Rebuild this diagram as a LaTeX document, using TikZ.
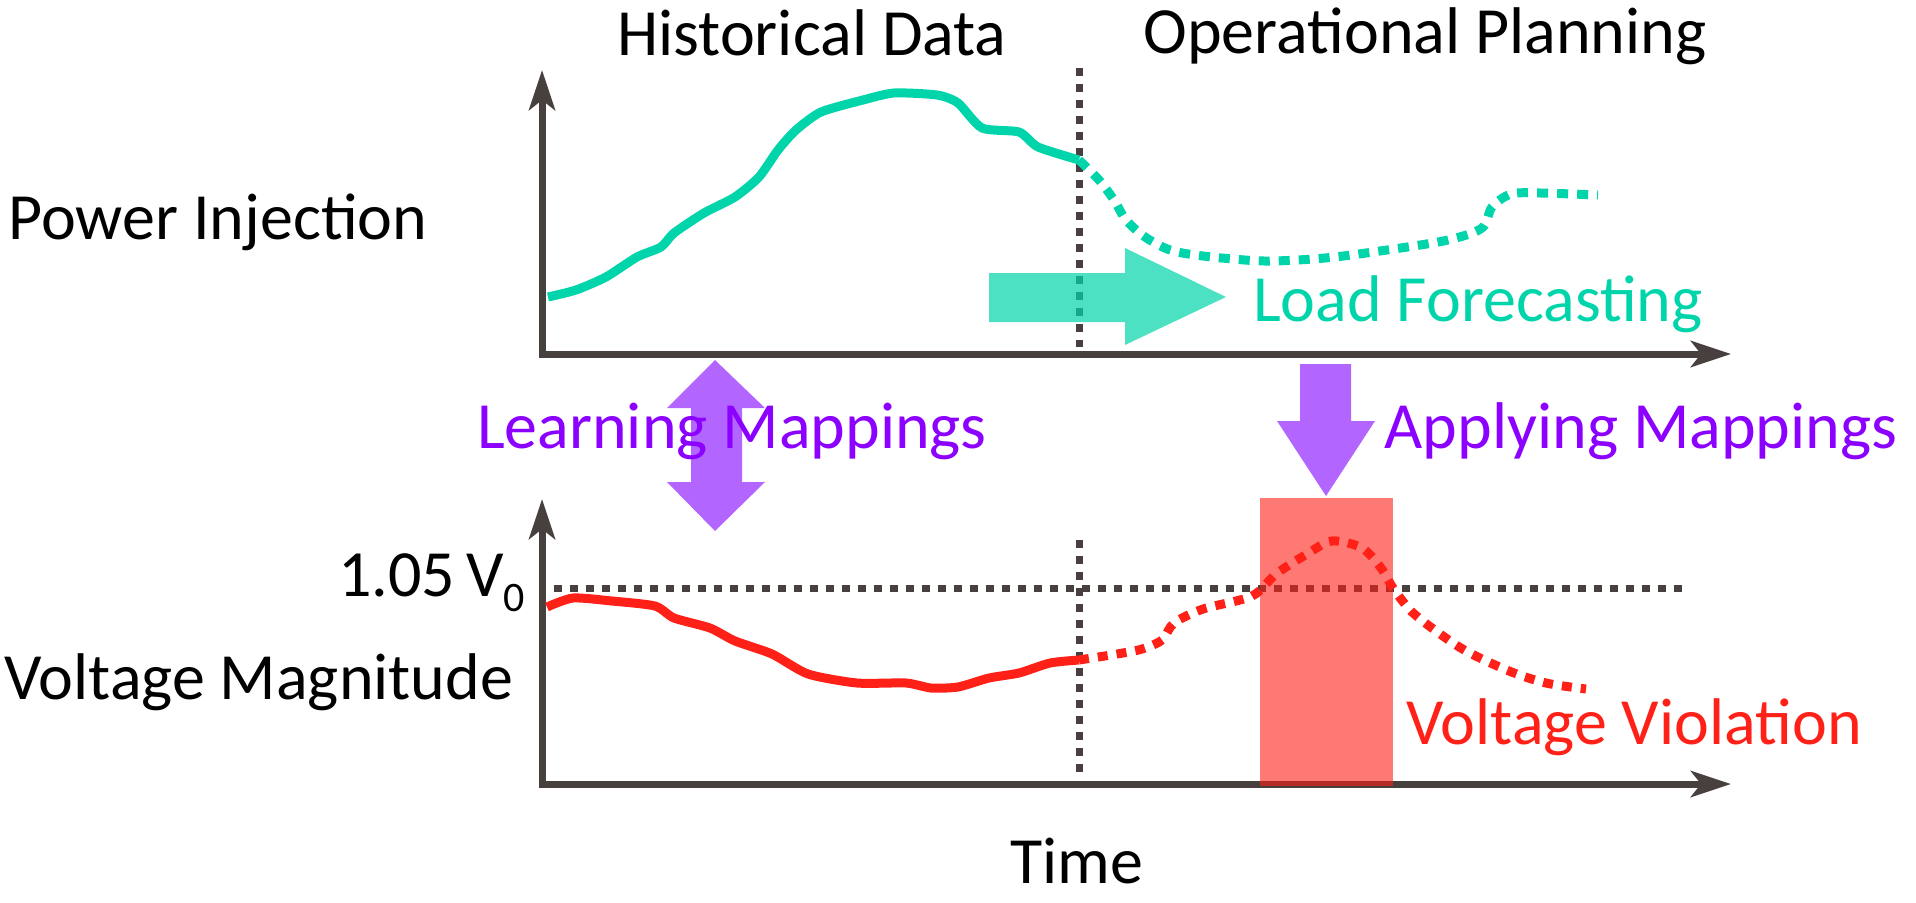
\documentclass[tikz,border=0pt]{standalone}
\usepackage{fontspec}
\setmainfont{Carlito}
\usetikzlibrary{positioning, arrows.meta}
\definecolor{axisgray}{RGB}{72,64,62}
\definecolor{loadgreen}{RGB}{0,212,170}
\definecolor{mapviolet}{RGB}{139,0,255}
\definecolor{arrowviolet}{RGB}{179,102,255}
\definecolor{voltred}{RGB}{255,32,24}

\begin{document}
\begin{tikzpicture}[x=1pt,y=-1pt,
    every node/.style={inner sep=0pt,font=\fontsize{66}{72}\selectfont},
    axis/.style={draw=axisgray,line width=7pt,{Stealth[length=40pt,width=26pt,inset=10pt]}-{Stealth[length=40pt,width=26pt,inset=10pt]}},
    divider/.style={draw=axisgray,line width=7pt,dash pattern=on 8pt off 8pt},
    loadline/.style={draw=loadgreen,line width=9pt,line join=round},
    voltline/.style={draw=voltred,line width=9pt,line join=round},
    forecast/.style={dash pattern=on 11pt off 9pt},
    >=Stealth]
    \useasboundingbox (0,0) rectangle (1916,902);

    % axes of both panels
    \coordinate (topO) at (542,354);
    \coordinate (topY) at (542,70);
    \coordinate (topX) at (1731,354);
    \coordinate (botO) at (542,784);
    \coordinate (botY) at (542,499);
    \coordinate (botX) at (1731,784);
    \coordinate (topcut1) at (1079,68);
    \coordinate (topcut2) at (1079,347);
    \coordinate (botcut1) at (1079,540);
    \coordinate (botcut2) at (1079,776);
    \coordinate (limit1) at (554,588);
    \coordinate (limit2) at (1684,588);

    \draw [divider] (topcut1) -- (topcut2);
    \draw [divider] (botcut1) -- (botcut2);
    \draw [divider] (limit1) -- (limit2);
    \draw [axis] (topY) -- (topO) -- (topX);
    \draw [axis] (botY) -- (botO) -- (botX);

    % power injection
    \draw [loadline] plot[smooth,tension=0.4] coordinates {(548,297) (576,290) (606,277) (637,257) (661,247) (674,233) (704,213) (735,197) (759,177) (778,150) (796,130) (821,112) (863,100) (894,93) (937,95) (958,103) (982,128) (1019,132) (1038,147) (1079,160)};
    \draw [loadline,forecast] plot[smooth,tension=0.5] coordinates {(1079,160) (1099,180) (1114,200) (1126,220) (1145,237) (1170,250) (1203,256) (1264,261) (1325,258) (1387,250) (1448,240) (1482,228) (1492,207) (1511,194) (1540,193) (1598,195)};
    \fill [loadgreen,fill opacity=0.7] (989,273) -- (1125,273) -- (1125,248) -- (1226,297) -- (1125,345) -- (1125,322) -- (989,322) -- cycle;

    % voltage magnitude
    \fill [voltred,fill opacity=0.6] (1260,498) rectangle (1393,786);
    \draw [voltline] plot[smooth,tension=0.4] coordinates {(547,607) (573,598) (612,601) (655,606) (674,618) (710,628) (735,641) (772,654) (808,674) (857,683) (906,683) (931,688) (958,687) (989,678) (1019,673) (1050,663) (1079,660)};
    \draw [voltline,dash pattern=on 10pt off 9pt] plot[smooth,tension=0.5] coordinates {(1079,660) (1117,654) (1142,649) (1162,640) (1174,623) (1203,609) (1252,596) (1276,574) (1307,554) (1332,541) (1362,548) (1381,568) (1393,588) (1411,611) (1436,631) (1466,651) (1509,671) (1546,683) (1586,689)};

    % mappings
    \fill [arrowviolet] (715,360) -- (765,408) -- (742,408) -- (742,482) -- (765,482) -- (715,531) -- (667,482) -- (691,482) -- (691,408) -- (667,408) -- cycle;
    \fill [arrowviolet] (1300,364) -- (1351,364) -- (1351,421) -- (1375,421) -- (1326,496) -- (1277,421) -- (1300,421) -- cycle;

    \node [anchor=base] (historylabel) at (812,55) {Historical Data};
    \node [anchor=base] (planninglabel) at (1425,53) {Operational Planning};
    \node [anchor=base] (powerlabel) at (218,239) {Power Injection};
    \node [anchor=base,text=loadgreen] (forecastlabel) at (1478,321) {Load Forecasting};
    \node [anchor=base,text=mapviolet] (learnlabel) at (732,448) {Learning Mappings};
    \node [anchor=base,text=mapviolet] (applylabel) at (1641,448) {Applying Mappings};
    \node [anchor=base east] (limitlabel) at (525,596) {1.05\,V\raisebox{-15pt}{\fontsize{42}{42}\selectfont 0}};
    \node [anchor=base west] (voltagelabel) at (4,699) {Voltage Magnitude};
    \node [anchor=base,text=voltred] (violationlabel) at (1634,744) {Voltage Violation};
    \node [anchor=base] (timelabel) at (1077,883) {Time};
\end{tikzpicture}
\end{document}
